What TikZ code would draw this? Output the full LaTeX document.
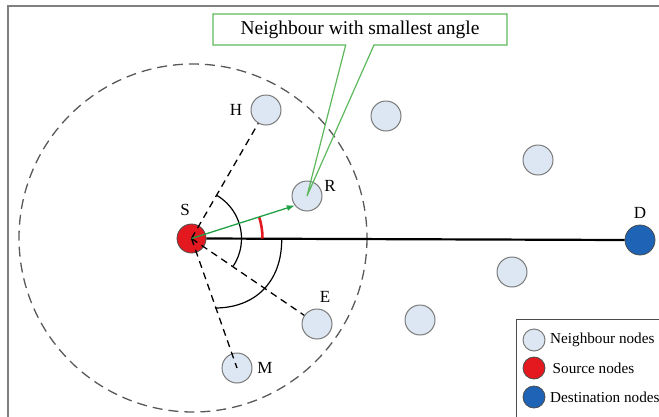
\documentclass[tikz,border=0pt]{standalone}
\usepackage{fontspec}
\setmainfont{Liberation Serif}
\usetikzlibrary{arrows.meta,calc}
\definecolor{nbfill}{HTML}{DDE7F3}
\definecolor{nbdraw}{HTML}{7A7A7A}
\definecolor{srcred}{HTML}{E3191F}
\definecolor{dstblue}{HTML}{1E63B5}
\definecolor{arrgreen}{HTML}{22A045}
\definecolor{boxgreen}{HTML}{5DB85D}
\definecolor{framegray}{HTML}{808080}
\tikzset{
  nb/.style={circle,draw=nbdraw,fill=nbfill,line width=1pt,minimum size=30pt,inner sep=0pt},
  src/.style={circle,draw=black!70,fill=srcred,line width=0.8pt,minimum size=29pt,inner sep=0pt},
  dst/.style={circle,draw=black!70,fill=dstblue,line width=0.8pt,minimum size=30pt,inner sep=0pt},
  lbl/.style={font=\fontsize{17}{19}\selectfont,inner sep=0pt},
  dline/.style={black,line width=1.3pt,dash pattern=on 7pt off 5pt},
  anglearc/.style={black,line width=1.2pt},
  legtext/.style={font=\fontsize{15.2}{17}\selectfont,anchor=west,inner sep=0pt},
}
\begin{document}
\begin{tikzpicture}[x=1pt,y=-1pt]
\useasboundingbox (0,0) rectangle (659,416);
% frame
\draw[framegray,line width=2.5pt] (8,420) -- (8,6) -- (665,6);
% dashed range circle
\draw[black!65,line width=1.3pt,dash pattern=on 10pt off 6pt] (193,238) circle (174);
% nodes
\node[src] (S) at (191.5,238.5) {};
\node[dst] (D) at (640,240) {};
\node[nb] (H) at (266,110) {};
\node[nb] (R) at (307,196) {};
\node[nb] (E) at (317,324) {};
\node[nb] (M) at (237,368) {};
\node[nb] (n1) at (386,116) {};
\node[nb] (n2) at (538,160) {};
\node[nb] (n3) at (512,272) {};
\node[nb] (n4) at (420,320) {};
% main line S-D
\draw[black,line width=2.2pt] (S.east) -- (D.west);
% labels
\node[lbl] (lH) at (236,110) {H};
\node[lbl] (lS) at (185,210) {S};
\node[lbl] (lR) at (330,186) {R};
\node[lbl] (lD) at (640,213) {D};
\node[lbl] (lE) at (325,297) {E};
\node[lbl] (lM) at (265,368) {M};
% dashed lines
\draw[dline] (S.center) -- (H);
\draw[dline] (S.center) -- (E);
\draw[dline] (S.center) -- (M.center);
% angle arcs
\draw[anglearc] (S.center) ++(-59.5:50) arc[start angle=-59.5,end angle=33.8,radius=50];
\draw[anglearc] (281.7,239) .. controls (282,282) and (255,308) .. (215,308);
\draw[srcred,line width=2.6pt] (S.center) ++(0:71) arc[start angle=0,end angle=-17.5,radius=71];
% green arrow
\draw[arrgreen,line width=1.3pt,-{Latex[length=8pt,width=6pt]}] (S.center) -- (R.218);
% callout
\node[font=\fontsize{19.5}{22}\selectfont,inner sep=0pt] (call) at (360,29.5) {Neighbour with smallest angle};
\draw[boxgreen,line width=1.2pt] (213,14) -- (507,14) -- (507,45) -- (374,45) -- (R.center) -- (345.7,45) -- (213,45) -- cycle;
% legend
\draw[black!70,line width=1pt] (516.7,430) -- (516.7,319.3) -- (670,319.3);
\node[nb,minimum size=22pt] (L1) at (534,340) {};
\node[src,minimum size=22pt] (L2) at (534,368) {};
\node[dst,minimum size=22pt] (L3) at (534,397) {};
\node[legtext] (T1) at (550,340) {Neighbour nodes};
\node[legtext] (T2) at (552.5,368) {Source nodes};
\node[legtext] (T3) at (550,397) {Destination nodes};
\end{tikzpicture}
\end{document}
